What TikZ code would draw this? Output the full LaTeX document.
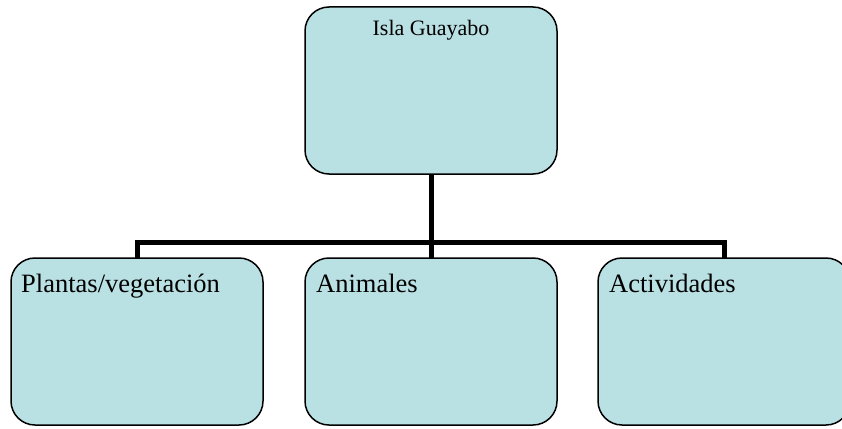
\documentclass[tikz,border=0pt]{standalone}
\usepackage{fontspec}
\setmainfont{Liberation Serif}
\definecolor{boxfill}{RGB}{185,224,227}
\begin{document}
\begin{tikzpicture}[x=1pt,y=-1pt,
  box/.style={draw=black, line width=1.5pt, fill=boxfill, rounded corners=24pt,
    minimum width=252pt, minimum height=167pt, inner sep=0pt, outer sep=0pt},
  conn/.style={draw=black, line width=5pt},
  lbl/.style={anchor=base west, inner sep=0pt, font=\fontsize{26.5}{30}\selectfont},
  toplbl/.style={anchor=base, inner sep=0pt, font=\fontsize{22}{26}\selectfont}]
\useasboundingbox (0,0) rectangle (842,428);
\clip (0,0) rectangle (842,428);
\coordinate (bus) at (431,242);
\node[box] (top) at (431,90.5) {};
\node[box] (b1) at (137,341.5) {};
\node[box] (b2) at (431,341.5) {};
\node[box] (b3) at (724,341.5) {};
\draw[conn] (top.south) -- (b2.north);
\draw[conn] (b1.north) -- (b1.north |- bus) -- (b3.north |- bus) -- (b3.north);
\node[toplbl] (t0) at (431,36) {Isla Guayabo};
\node[lbl] (t1) at (21,292) {Plantas/vegetación};
\node[lbl] (t2) at (316,292) {Animales};
\node[lbl] (t3) at (609,292) {Actividades};
\end{tikzpicture}
\end{document}
